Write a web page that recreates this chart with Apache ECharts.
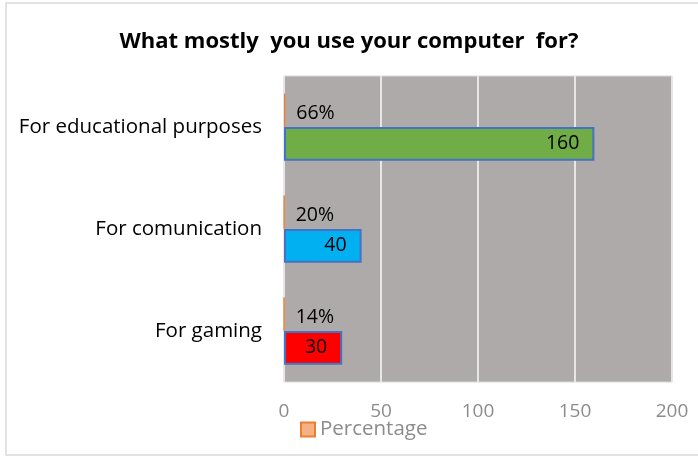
<!DOCTYPE html>
<html>
<head>
<meta charset="utf-8">
<script src="https://cdn.jsdelivr.net/npm/echarts@6/dist/echarts.min.js"></script>
<style>
  html, body { margin: 0; padding: 0; background: #fff; }
  #chart { width: 698px; height: 464px; }
</style>
</head>
<body>
<div id="chart"></div>
<script>
// Survey: main use of the computer
const categories = ['For gaming', 'For comunication', 'For educational purposes'];
const counts = [30, 40, 160];
const shares = [0.14, 0.20, 0.66];
const countColors = ['#FF0000', '#00B0F0', '#70AD47'];
const xTicks = [0, 50, 100, 150, 200];

const FONT = '"Open Sans", "Liberation Sans", Arial, sans-serif';

const chart = echarts.init(document.getElementById('chart'));
chart.setOption({
  animation: false,
  backgroundColor: '#ffffff',
  graphic: [{
    type: 'rect',
    shape: { x: 6, y: 3, width: 720, height: 452 },
    style: { fill: 'none', stroke: '#d9d9d9', lineWidth: 1.5 },
    silent: true
  }],
  title: {
    text: 'What mostly  you use your computer  for?',
    left: 'center',
    top: 26,
    textStyle: { fontFamily: FONT, fontSize: 22, fontWeight: 'bold', color: '#000' }
  },
  legend: {
    data: [{ name: 'Percentage', icon: 'rect' }],
    left: 295,
    top: 414,
    itemWidth: 14,
    itemHeight: 14,
    itemGap: 6,
    textStyle: { fontFamily: FONT, fontSize: 20.5, color: '#8c8c8c' }
  },
  grid: {
    left: 284, right: 26, top: 76, bottom: 82,
    show: true,
    backgroundColor: '#AEAAAA',
    borderColor: '#d9d9d9',
    borderWidth: 1
  },
  xAxis: {
    type: 'value',
    min: xTicks[0],
    max: xTicks[xTicks.length - 1],
    interval: xTicks[1] - xTicks[0],
    axisLine: { show: false },
    axisTick: { show: false },
    axisLabel: { fontFamily: FONT, fontSize: 19, color: '#8c8c8c', margin: 20 },
    splitLine: { lineStyle: { color: '#e6e6e6', width: 2 } }
  },
  yAxis: {
    type: 'category',
    data: categories,
    axisLine: { show: false },
    axisTick: { show: false },
    axisLabel: { fontFamily: FONT, fontSize: 20.5, color: '#000', margin: 22 }
  },
  series: [
    {
      name: 'Percentage',
      type: 'bar',
      barGap: '0%',
      barCategoryGap: '34%',
      data: shares,
      itemStyle: { color: '#F4B183', borderColor: '#ED7D31', borderWidth: 1 },
      label: {
        show: true,
        position: 'right',
        distance: 11,
        offset: [0, 3],
        fontFamily: FONT,
        fontSize: 19.5,
        color: '#000',
        formatter: p => Math.round(p.value * 100) + '%'
      }
    },
    {
      name: 'Count',
      type: 'bar',
      data: counts.map((v, i) => ({ value: v, itemStyle: { color: countColors[i] } })),
      itemStyle: { borderColor: '#4472C4', borderWidth: 2 },
      label: {
        show: true,
        position: 'insideRight',
        distance: 15,
        fontFamily: FONT,
        fontSize: 19.5,
        color: '#000'
      }
    }
  ]
});
</script>
</body>
</html>
